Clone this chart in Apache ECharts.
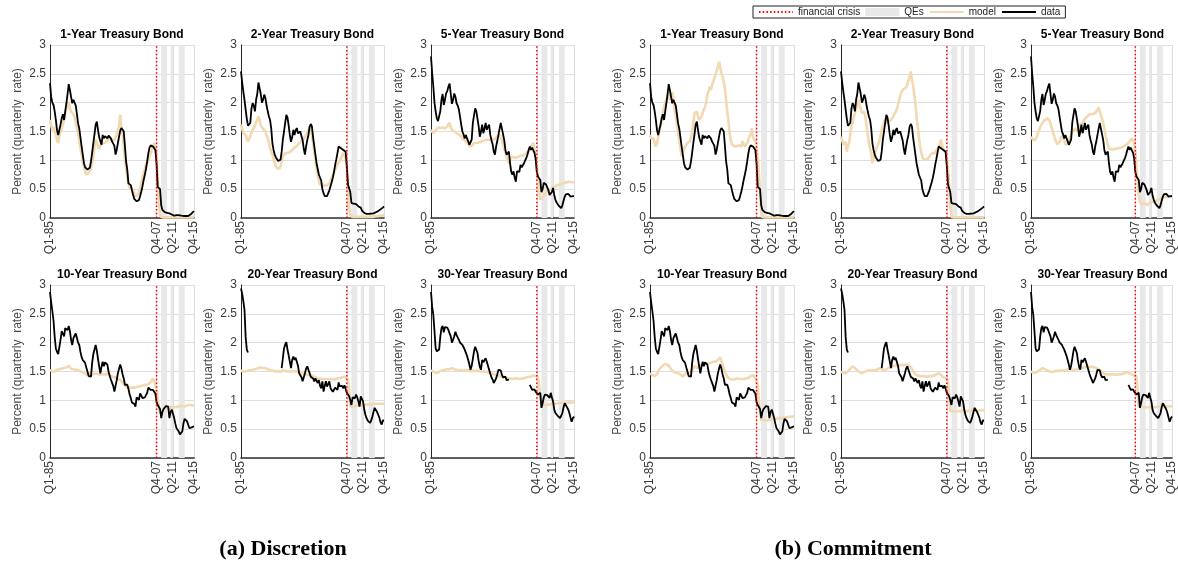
<!DOCTYPE html>
<html>
<head>
<meta charset="utf-8">
<script src="https://cdn.jsdelivr.net/npm/echarts@6/dist/echarts.min.js"></script>
<style>
  html, body { margin: 0; padding: 0; background: #fff; }
  #chart { width: 1178px; height: 564px; }
</style>
</head>
<body>
<div id="chart"></div>
<script>
// Quarterly sample, Q1-85 ... Q4-15
const quarters = [];
for (let y = 1985; y <= 2015; y++) {
  for (let q = 1; q <= 4; q++) quarters.push('Q' + q + '-' + String(y).slice(2));
}
const tickLabels = ['Q1-85', 'Q4-07', 'Q2-11', 'Q4-15'];
const crisisQuarter = 'Q4-07';
const qePeriods = [['Q4-08', 'Q1-10'], ['Q4-10', 'Q2-11'], ['Q3-12', 'Q4-13']];
const bondTitles = ['1-Year Treasury Bond', '2-Year Treasury Bond', '5-Year Treasury Bond',
                    '10-Year Treasury Bond', '20-Year Treasury Bond', '30-Year Treasury Bond'];
const captions = ['(a) Discretion', '(b) Commitment'];

// Observed yields (percent, quarterly rate)
const data1y = [
  2.34, 2.10, 2.00, 1.96, 1.85, 1.70, 1.52, 1.44, 1.47, 1.62,
  1.73, 1.80, 1.70, 1.85, 1.99, 2.15, 2.32, 2.22, 2.10, 1.99,
  2.05, 2.07, 1.95, 1.80, 1.64, 1.55, 1.40, 1.24, 1.10, 0.95,
  0.88, 0.86, 0.84, 0.85, 0.87, 0.98, 1.13, 1.30, 1.45, 1.62,
  1.67, 1.53, 1.40, 1.33, 1.27, 1.44, 1.38, 1.42, 1.44, 1.38,
  1.43, 1.44, 1.38, 1.33, 1.30, 1.25, 1.10, 1.18, 1.30, 1.41,
  1.52, 1.56, 1.55, 1.50, 1.25, 0.98, 0.84, 0.60, 0.58, 0.57,
  0.48, 0.40, 0.33, 0.30, 0.29, 0.30, 0.31, 0.38, 0.46, 0.55,
  0.66, 0.75, 0.85, 0.98, 1.12, 1.22, 1.26, 1.25, 1.24, 1.21,
  1.18, 0.95, 0.54, 0.52, 0.50, 0.22, 0.14, 0.11, 0.10, 0.10,
  0.09, 0.08, 0.08, 0.08, 0.06, 0.05, 0.04, 0.04, 0.05, 0.05,
  0.05, 0.04, 0.04, 0.035, 0.035, 0.035, 0.035, 0.035, 0.035, 0.04,
  0.06, 0.08, 0.10, 0.12
];
const data2y = [
  2.54, 2.35, 2.19, 2.05, 1.88, 1.72, 1.60, 1.58, 1.65, 1.90,
  1.99, 1.95, 1.85, 2.05, 2.15, 2.35, 2.25, 2.15, 2.00, 2.05,
  2.14, 2.08, 1.95, 1.85, 1.76, 1.70, 1.55, 1.30, 1.18, 1.10,
  1.05, 1.02, 0.99, 0.98, 1.01, 1.15, 1.36, 1.50, 1.65, 1.79,
  1.74, 1.60, 1.44, 1.32, 1.40, 1.53, 1.44, 1.52, 1.56, 1.47,
  1.44, 1.50, 1.42, 1.35, 1.20, 1.10, 1.24, 1.35, 1.44, 1.58,
  1.63, 1.59, 1.40, 1.25, 1.10, 0.95, 0.85, 0.75, 0.78, 0.65,
  0.50, 0.43, 0.38, 0.35, 0.38, 0.40, 0.48, 0.55, 0.62, 0.70,
  0.80, 0.92, 1.02, 1.13, 1.24, 1.22, 1.21, 1.20, 1.18, 1.17,
  1.15, 0.90, 0.58, 0.56, 0.45, 0.26, 0.26, 0.25, 0.26, 0.24,
  0.23, 0.20, 0.17, 0.18, 0.13, 0.12, 0.09, 0.07, 0.07, 0.07,
  0.07, 0.07, 0.075, 0.075, 0.08, 0.09, 0.10, 0.11, 0.12, 0.13,
  0.15, 0.17, 0.18, 0.20
];
const data5y = [
  2.80, 2.51, 2.28, 2.00, 1.85, 1.73, 1.68, 1.67, 1.85, 2.05,
  2.15, 1.96, 2.05, 2.16, 2.20, 2.28, 2.33, 2.15, 1.98, 2.05,
  2.16, 2.10, 1.99, 1.95, 1.88, 1.75, 1.62, 1.50, 1.45, 1.38,
  1.44, 1.38, 1.33, 1.27, 1.30, 1.36, 1.65, 1.78, 1.90, 1.85,
  1.72, 1.59, 1.41, 1.50, 1.62, 1.47, 1.55, 1.65, 1.53, 1.58,
  1.62, 1.44, 1.35, 1.28, 1.15, 1.10, 1.24, 1.33, 1.44, 1.55,
  1.65, 1.55, 1.45, 1.35, 1.18, 1.10, 1.12, 1.15, 0.95, 0.80,
  0.75, 0.81, 0.70, 0.63, 0.81, 0.78, 0.80, 0.92, 0.88, 0.90,
  0.95, 1.00, 1.04, 1.10, 1.18, 1.24, 1.18, 1.22, 1.20, 1.13,
  1.03, 0.80, 0.72, 0.70, 0.66, 0.45, 0.50, 0.61, 0.60, 0.58,
  0.56, 0.48, 0.40, 0.37, 0.45, 0.52, 0.40, 0.32, 0.27, 0.24,
  0.21, 0.18, 0.17, 0.22, 0.30, 0.37, 0.41, 0.42, 0.42, 0.40,
  0.37, 0.39, 0.38, 0.38
];
const data10y = [
  2.88, 2.70, 2.55, 2.38, 2.10, 1.90, 1.84, 1.80, 1.79, 2.05,
  2.20, 2.18, 2.11, 2.25, 2.28, 2.22, 2.29, 2.20, 2.05, 1.96,
  2.08, 2.12, 2.16, 2.08, 2.00, 1.96, 1.84, 1.75, 1.70, 1.73,
  1.65, 1.57, 1.50, 1.42, 1.41, 1.41, 1.65, 1.80, 1.88, 1.96,
  1.86, 1.72, 1.59, 1.47, 1.58, 1.67, 1.59, 1.66, 1.65, 1.62,
  1.50, 1.42, 1.36, 1.33, 1.25, 1.15, 1.25, 1.35, 1.47, 1.55,
  1.62, 1.55, 1.45, 1.38, 1.27, 1.24, 1.27, 1.20, 1.10, 1.04,
  0.96, 0.98, 0.94, 0.89, 1.05, 1.05, 1.01, 1.12, 1.08, 1.04,
  1.07, 1.05, 1.06, 1.13, 1.22, 1.25, 1.18, 1.21, 1.18, 1.15,
  1.12, 0.97, 0.92, 0.90, 0.85, 0.69, 0.80, 0.85, 0.87, 0.90,
  0.92, 0.89, 0.69, 0.80, 0.84, 0.84, 0.70, 0.60, 0.52, 0.50,
  0.46, 0.41, 0.42, 0.46, 0.60, 0.68, 0.67, 0.64, 0.58, 0.52,
  0.49, 0.53, 0.55, 0.55
];
// 20-year series not issued 1987-1993
const data20y = [
  2.94, 2.85, 2.72, 2.57, 2.10, 1.88, 1.83, null, null, null,
  null, null, null, null, null, null, null, null, null, null,
  null, null, null, null, null, null, null, null, null, null,
  null, null, null, null, null, 1.56, 1.73, 1.90, 1.97, 2.01,
  1.88, 1.78, 1.67, 1.56, 1.70, 1.76, 1.70, 1.74, 1.73, 1.60,
  1.47, 1.44, 1.40, 1.33, 1.40, 1.47, 1.55, 1.59, 1.53, 1.47,
  1.41, 1.44, 1.38, 1.33, 1.38, 1.34, 1.30, 1.35, 1.25, 1.21,
  1.33, 1.15, 1.25, 1.33, 1.24, 1.28, 1.33, 1.21, 1.18, 1.15,
  1.16, 1.22, 1.25, 1.18, 1.31, 1.24, 1.27, 1.25, 1.21, 1.26,
  1.24, 1.13, 1.15, 1.07, 1.00, 0.92, 1.05, 1.07, 1.04, 1.10,
  1.05, 0.98, 0.89, 1.07, 1.05, 0.98, 0.84, 0.75, 0.69, 0.65,
  0.63, 0.61, 0.65, 0.72, 0.80, 0.87, 0.84, 0.80, 0.75, 0.70,
  0.62, 0.58, 0.65, 0.65
];
// 30-year series suspended 2002-2005
const data30y = [
  2.88, 2.62, 2.48, 2.20, 1.90, 1.85, 1.86, 1.88, 2.10, 2.25,
  2.29, 2.18, 2.27, 2.28, 2.26, 2.22, 2.16, 2.11, 2.00, 2.05,
  2.11, 2.19, 2.13, 2.10, 2.05, 2.00, 1.98, 1.96, 1.92, 1.88,
  1.85, 1.77, 1.70, 1.62, 1.53, 1.60, 1.72, 1.85, 1.93, 1.96,
  1.82, 1.68, 1.58, 1.53, 1.70, 1.66, 1.64, 1.73, 1.67, 1.64,
  1.53, 1.46, 1.40, 1.36, 1.30, 1.27, 1.38, 1.45, 1.53, 1.56,
  1.52, 1.44, 1.40, 1.38, 1.41, 1.35, 1.33, 1.36, null, null,
  null, null, null, null, null, null, null, null, null, null,
  null, null, null, null, null, 1.27, 1.24, 1.18, 1.21, 1.19,
  1.15, 1.14, 1.10, 1.12, 1.13, 0.87, 0.95, 1.05, 1.10, 1.13,
  1.09, 1.07, 1.04, 1.13, 1.05, 0.98, 0.84, 0.78, 0.75, 0.73,
  0.72, 0.69, 0.72, 0.78, 0.88, 0.95, 0.92, 0.88, 0.84, 0.78,
  0.70, 0.63, 0.69, 0.72
];

// Model-implied yields under discretion
const discretion1y = [
  1.70, 1.60, 1.53, 1.58, 1.50, 1.45, 1.35, 1.30, 1.42, 1.50,
  1.55, 1.62, 1.70, 1.80, 1.90, 1.95, 2.02, 1.90, 1.85, 1.82,
  1.80, 1.75, 1.72, 1.55, 1.47, 1.35, 1.20, 1.10, 0.98, 0.88,
  0.80, 0.75, 0.72, 0.78, 0.81, 0.85, 0.95, 1.05, 1.25, 1.36,
  1.30, 1.24, 1.20, 1.25, 1.27, 1.30, 1.28, 1.30, 1.32, 1.35,
  1.36, 1.38, 1.37, 1.35, 1.33, 1.35, 1.40, 1.45, 1.52, 1.60,
  1.79, 1.55, 1.45, 1.25, 1.05, 0.85, 0.72, 0.60, 0.52, 0.50,
  0.52, 0.48, 0.42, 0.38, 0.37, 0.40, 0.45, 0.52, 0.62, 0.70,
  0.78, 0.85, 0.92, 0.97, 1.01, 1.08, 1.12, 1.18, 1.25, 1.30,
  1.25, 1.05, 0.66, 0.25, 0.06, 0.02, 0.01, 0.01, 0.01, 0.01,
  0.01, 0.01, 0.01, 0.01, 0.01, 0.01, 0.01, 0.01, 0.01, 0.01,
  0.01, 0.01, 0.01, 0.01, 0.01, 0.01, 0.01, 0.01, 0.01, 0.01,
  0.01, 0.01, 0.01, 0.01
];
const discretion2y = [
  1.62, 1.55, 1.47, 1.45, 1.44, 1.38, 1.33, 1.36, 1.42, 1.48,
  1.53, 1.55, 1.60, 1.65, 1.70, 1.76, 1.70, 1.60, 1.58, 1.55,
  1.52, 1.50, 1.47, 1.38, 1.30, 1.22, 1.15, 1.10, 1.02, 0.95,
  0.90, 0.86, 0.84, 0.86, 0.90, 0.98, 1.07, 1.10, 1.12, 1.10,
  1.13, 1.15, 1.14, 1.16, 1.18, 1.20, 1.22, 1.24, 1.25, 1.27,
  1.30, 1.31, 1.33, 1.35, 1.38, 1.40, 1.44, 1.48, 1.52, 1.59,
  1.52, 1.45, 1.30, 1.15, 1.00, 0.85, 0.75, 0.65, 0.58, 0.55,
  0.57, 0.58, 0.56, 0.55, 0.57, 0.58, 0.60, 0.65, 0.70, 0.74,
  0.79, 0.84, 0.88, 0.92, 0.95, 1.00, 1.04, 1.08, 1.13, 1.10,
  1.05, 0.90, 0.50, 0.20, 0.05, 0.02, 0.02, 0.02, 0.02, 0.02,
  0.02, 0.02, 0.02, 0.02, 0.02, 0.02, 0.02, 0.02, 0.02, 0.02,
  0.02, 0.02, 0.02, 0.02, 0.02, 0.02, 0.03, 0.03, 0.03, 0.04,
  0.04, 0.05, 0.05, 0.05
];
const discretion5y = [
  1.53, 1.50, 1.47, 1.47, 1.52, 1.55, 1.57, 1.59, 1.56, 1.55,
  1.57, 1.56, 1.55, 1.58, 1.59, 1.62, 1.65, 1.58, 1.53, 1.52,
  1.50, 1.48, 1.47, 1.46, 1.45, 1.43, 1.41, 1.38, 1.36, 1.35,
  1.33, 1.30, 1.28, 1.24, 1.21, 1.25, 1.28, 1.30, 1.31, 1.30,
  1.32, 1.31, 1.33, 1.32, 1.33, 1.34, 1.33, 1.35, 1.34, 1.36,
  1.35, 1.35, 1.34, 1.36, 1.35, 1.37, 1.38, 1.41, 1.42, 1.44,
  1.40, 1.35, 1.28, 1.20, 1.12, 1.07, 1.00, 0.95, 1.00, 1.05,
  1.07, 1.06, 1.05, 1.04, 1.05, 1.06, 1.07, 1.08, 1.07, 1.08,
  1.10, 1.11, 1.13, 1.14, 1.17, 1.20, 1.24, 1.27, 1.30, 1.20,
  1.10, 0.90, 0.65, 0.45, 0.32, 0.29, 0.35, 0.40, 0.43, 0.45,
  0.47, 0.48, 0.49, 0.50, 0.52, 0.53, 0.55, 0.55, 0.56, 0.57,
  0.58, 0.58, 0.59, 0.60, 0.60, 0.61, 0.61, 0.62, 0.62, 0.63,
  0.63, 0.62, 0.61, 0.62
];
const discretion10y = [
  1.53, 1.52, 1.50, 1.49, 1.50, 1.52, 1.53, 1.55, 1.54, 1.56,
  1.55, 1.57, 1.56, 1.58, 1.57, 1.59, 1.60, 1.57, 1.55, 1.56,
  1.54, 1.55, 1.53, 1.52, 1.53, 1.51, 1.50, 1.50, 1.49, 1.48,
  1.46, 1.47, 1.44, 1.45, 1.47, 1.46, 1.45, 1.47, 1.46, 1.45,
  1.46, 1.44, 1.45, 1.46, 1.45, 1.44, 1.45, 1.46, 1.45, 1.44,
  1.46, 1.45, 1.43, 1.42, 1.40, 1.38, 1.40, 1.38, 1.36, 1.38,
  1.36, 1.33, 1.30, 1.28, 1.26, 1.24, 1.22, 1.21, 1.22, 1.20,
  1.22, 1.23, 1.22, 1.24, 1.23, 1.25, 1.24, 1.23, 1.25, 1.24,
  1.26, 1.25, 1.27, 1.26, 1.28, 1.30, 1.32, 1.35, 1.38, 1.32,
  1.28, 1.25, 1.05, 0.85, 0.78, 0.76, 0.80, 0.83, 0.85, 0.85,
  0.86, 0.87, 0.86, 0.87, 0.88, 0.87, 0.88, 0.89, 0.88, 0.89,
  0.90, 0.89, 0.90, 0.89, 0.90, 0.91, 0.90, 0.91, 0.92, 0.91,
  0.92, 0.93, 0.91, 0.92
];
const discretion20y = [
  1.52, 1.51, 1.50, 1.49, 1.50, 1.51, 1.52, 1.53, 1.52, 1.54,
  1.53, 1.55, 1.54, 1.56, 1.55, 1.56, 1.57, 1.55, 1.56, 1.55,
  1.56, 1.54, 1.55, 1.54, 1.53, 1.54, 1.52, 1.53, 1.51, 1.52,
  1.50, 1.49, 1.51, 1.50, 1.49, 1.51, 1.52, 1.50, 1.51, 1.52,
  1.50, 1.51, 1.50, 1.49, 1.51, 1.50, 1.50, 1.49, 1.50, 1.49,
  1.48, 1.49, 1.47, 1.47, 1.46, 1.46, 1.45, 1.45, 1.44, 1.44,
  1.43, 1.42, 1.42, 1.41, 1.40, 1.39, 1.38, 1.38, 1.37, 1.38,
  1.37, 1.36, 1.37, 1.36, 1.37, 1.36, 1.37, 1.36, 1.37, 1.37,
  1.36, 1.37, 1.38, 1.37, 1.38, 1.38, 1.39, 1.40, 1.41, 1.42,
  1.40, 1.38, 1.36, 1.20, 0.90, 0.87, 0.88, 0.89, 0.90, 0.90,
  0.91, 0.90, 0.91, 0.92, 0.91, 0.92, 0.91, 0.92, 0.93, 0.92,
  0.93, 0.92, 0.93, 0.93, 0.94, 0.93, 0.94, 0.93, 0.94, 0.95,
  0.94, 0.95, 0.94, 0.95
];
const discretion30y = [
  1.52, 1.51, 1.50, 1.49, 1.48, 1.49, 1.48, 1.50, 1.51, 1.50,
  1.52, 1.51, 1.53, 1.52, 1.54, 1.55, 1.54, 1.55, 1.56, 1.55,
  1.54, 1.55, 1.53, 1.54, 1.52, 1.53, 1.52, 1.53, 1.51, 1.52,
  1.52, 1.51, 1.52, 1.50, 1.51, 1.52, 1.51, 1.50, 1.51, 1.50,
  1.51, 1.50, 1.51, 1.50, 1.50, 1.49, 1.50, 1.49, 1.49, 1.48,
  1.48, 1.47, 1.47, 1.46, 1.45, 1.45, 1.44, 1.43, 1.43, 1.42,
  1.41, 1.40, 1.40, 1.39, 1.40, 1.39, 1.38, 1.39, 1.38, 1.38,
  1.37, 1.38, 1.38, 1.37, 1.38, 1.38, 1.37, 1.38, 1.38, 1.39,
  1.38, 1.39, 1.40, 1.40, 1.41, 1.40, 1.41, 1.42, 1.43, 1.44,
  1.42, 1.41, 1.40, 1.40, 1.10, 0.92, 0.91, 0.92, 0.93, 0.92,
  0.93, 0.93, 0.94, 0.93, 0.94, 0.94, 0.95, 0.94, 0.95, 0.95,
  0.95, 0.96, 0.95, 0.96, 0.96, 0.95, 0.96, 0.96, 0.97, 0.96,
  0.97, 0.96, 0.97, 0.97
];

// Model-implied yields under commitment
const commitment1y = [
  1.44, 1.38, 1.36, 1.38, 1.30, 1.24, 1.30, 1.40, 1.55, 1.60,
  1.72, 1.82, 1.92, 2.00, 2.02, 2.10, 2.19, 2.05, 2.10, 2.18,
  2.05, 1.90, 1.76, 1.62, 1.47, 1.35, 1.20, 1.07, 1.12, 1.18,
  1.24, 1.27, 1.30, 1.32, 1.33, 1.38, 1.50, 1.65, 1.82, 1.85,
  1.84, 1.76, 1.70, 1.73, 1.76, 1.82, 1.88, 1.92, 2.00, 2.14,
  2.20, 2.28, 2.22, 2.30, 2.37, 2.42, 2.45, 2.55, 2.63, 2.71,
  2.62, 2.51, 2.45, 2.35, 2.25, 2.05, 1.85, 1.68, 1.47, 1.35,
  1.28, 1.26, 1.24, 1.22, 1.25, 1.23, 1.26, 1.25, 1.24, 1.33,
  1.28, 1.24, 1.27, 1.30, 1.36, 1.41, 1.45, 1.56, 1.40, 1.38,
  1.32, 1.24, 1.05, 0.80, 0.43, 0.09, 0.02, 0.01, 0.01, 0.01,
  0.01, 0.01, 0.01, 0.01, 0.01, 0.01, 0.01, 0.01, 0.01, 0.01,
  0.01, 0.01, 0.01, 0.01, 0.01, 0.01, 0.01, 0.01, 0.01, 0.01,
  0.01, 0.01, 0.01, 0.01
];
const commitment2y = [
  1.41, 1.35, 1.27, 1.30, 1.32, 1.15, 1.25, 1.30, 1.45, 1.59,
  1.65, 1.76, 1.82, 1.90, 1.98, 2.05, 1.95, 1.90, 1.82, 1.80,
  1.84, 1.75, 1.59, 1.45, 1.30, 1.20, 1.13, 0.95, 1.02, 1.10,
  1.18, 1.24, 1.28, 1.33, 1.42, 1.53, 1.60, 1.64, 1.73, 1.70,
  1.64, 1.68, 1.66, 1.70, 1.73, 1.76, 1.79, 1.84, 1.88, 1.96,
  2.05, 2.12, 2.19, 2.22, 2.24, 2.22, 2.26, 2.28, 2.38, 2.45,
  2.54, 2.40, 2.31, 2.15, 1.99, 1.75, 1.59, 1.40, 1.25, 1.15,
  1.05, 1.01, 1.00, 1.02, 1.01, 1.03, 1.06, 1.10, 1.12, 1.13,
  1.10, 1.12, 1.18, 1.21, 1.20, 1.21, 1.36, 1.25, 1.20, 1.23,
  1.13, 1.00, 0.85, 0.60, 0.20, 0.02, 0.01, 0.01, 0.01, 0.01,
  0.01, 0.01, 0.01, 0.01, 0.01, 0.01, 0.01, 0.01, 0.01, 0.01,
  0.01, 0.01, 0.01, 0.01, 0.01, 0.01, 0.01, 0.01, 0.01, 0.01,
  0.01, 0.01, 0.01, 0.01
];
const commitment5y = [
  1.41, 1.38, 1.35, 1.33, 1.36, 1.40, 1.47, 1.52, 1.57, 1.62,
  1.65, 1.68, 1.70, 1.71, 1.72, 1.73, 1.70, 1.65, 1.57, 1.50,
  1.44, 1.36, 1.32, 1.28, 1.27, 1.32, 1.38, 1.42, 1.44, 1.35,
  1.27, 1.29, 1.30, 1.36, 1.40, 1.44, 1.50, 1.53, 1.55, 1.56,
  1.52, 1.50, 1.55, 1.62, 1.63, 1.65, 1.68, 1.72, 1.73, 1.76,
  1.79, 1.80, 1.78, 1.80, 1.79, 1.81, 1.82, 1.84, 1.88, 1.92,
  1.85, 1.78, 1.72, 1.65, 1.55, 1.44, 1.35, 1.28, 1.21, 1.20,
  1.19, 1.18, 1.19, 1.18, 1.20, 1.19, 1.21, 1.20, 1.22, 1.24,
  1.23, 1.24, 1.26, 1.27, 1.28, 1.30, 1.33, 1.36, 1.38, 1.34,
  1.30, 1.15, 0.89, 0.60, 0.40, 0.29, 0.24, 0.23, 0.25, 0.26,
  0.25, 0.24, 0.23, 0.25, 0.27, 0.29, 0.28, 0.27, 0.28, 0.30,
  0.31, 0.32, 0.33, 0.34, 0.35, 0.35, 0.36, 0.36, 0.37, 0.37,
  0.38, 0.38, 0.38, 0.38
];
const commitment10y = [
  1.47, 1.45, 1.44, 1.43, 1.42, 1.41, 1.45, 1.50, 1.54, 1.56,
  1.58, 1.60, 1.62, 1.64, 1.63, 1.62, 1.60, 1.57, 1.54, 1.52,
  1.50, 1.49, 1.48, 1.47, 1.47, 1.46, 1.45, 1.42, 1.41, 1.43,
  1.46, 1.47, 1.47, 1.48, 1.49, 1.50, 1.53, 1.56, 1.59, 1.57,
  1.56, 1.58, 1.60, 1.61, 1.62, 1.63, 1.62, 1.63, 1.64, 1.63,
  1.64, 1.64, 1.65, 1.66, 1.67, 1.66, 1.67, 1.68, 1.70, 1.72,
  1.75, 1.68, 1.62, 1.56, 1.50, 1.45, 1.41, 1.39, 1.37, 1.36,
  1.36, 1.35, 1.36, 1.37, 1.38, 1.37, 1.37, 1.36, 1.37, 1.36,
  1.37, 1.37, 1.38, 1.38, 1.39, 1.41, 1.42, 1.43, 1.44, 1.41,
  1.38, 1.33, 1.27, 1.00, 0.80, 0.66, 0.65, 0.66, 0.66, 0.65,
  0.66, 0.66, 0.67, 0.66, 0.67, 0.67, 0.68, 0.68, 0.69, 0.68,
  0.69, 0.69, 0.70, 0.69, 0.70, 0.70, 0.71, 0.71, 0.72, 0.71,
  0.72, 0.72, 0.72, 0.72
];
const commitment20y = [
  1.50, 1.48, 1.47, 1.46, 1.47, 1.49, 1.50, 1.53, 1.55, 1.57,
  1.59, 1.58, 1.56, 1.53, 1.52, 1.50, 1.49, 1.48, 1.47, 1.48,
  1.49, 1.50, 1.51, 1.50, 1.52, 1.53, 1.52, 1.51, 1.52, 1.53,
  1.52, 1.53, 1.55, 1.56, 1.55, 1.54, 1.53, 1.54, 1.53, 1.55,
  1.55, 1.56, 1.57, 1.58, 1.59, 1.59, 1.60, 1.60, 1.61, 1.62,
  1.61, 1.62, 1.61, 1.62, 1.61, 1.62, 1.62, 1.61, 1.60, 1.59,
  1.58, 1.54, 1.50, 1.47, 1.45, 1.44, 1.43, 1.43, 1.42, 1.41,
  1.42, 1.41, 1.42, 1.42, 1.41, 1.42, 1.42, 1.43, 1.42, 1.43,
  1.43, 1.44, 1.45, 1.46, 1.47, 1.46, 1.44, 1.42, 1.40, 1.39,
  1.38, 1.37, 1.36, 1.10, 0.82, 0.81, 0.81, 0.80, 0.81, 0.81,
  0.81, 0.80, 0.81, 0.81, 0.82, 0.81, 0.81, 0.82, 0.81, 0.82,
  0.82, 0.81, 0.82, 0.82, 0.83, 0.82, 0.82, 0.83, 0.82, 0.83,
  0.83, 0.83, 0.83, 0.83
];
const commitment30y = [
  1.50, 1.49, 1.48, 1.47, 1.48, 1.49, 1.50, 1.52, 1.53, 1.55,
  1.56, 1.55, 1.54, 1.53, 1.52, 1.51, 1.50, 1.49, 1.49, 1.50,
  1.50, 1.51, 1.51, 1.50, 1.51, 1.52, 1.51, 1.52, 1.52, 1.53,
  1.52, 1.53, 1.54, 1.55, 1.54, 1.53, 1.53, 1.54, 1.53, 1.54,
  1.54, 1.55, 1.55, 1.56, 1.56, 1.57, 1.57, 1.58, 1.58, 1.59,
  1.58, 1.59, 1.58, 1.59, 1.58, 1.58, 1.57, 1.56, 1.55, 1.54,
  1.53, 1.51, 1.49, 1.47, 1.46, 1.45, 1.45, 1.44, 1.45, 1.44,
  1.45, 1.44, 1.45, 1.45, 1.44, 1.45, 1.45, 1.46, 1.45, 1.46,
  1.46, 1.47, 1.47, 1.48, 1.49, 1.48, 1.47, 1.46, 1.45, 1.44,
  1.43, 1.42, 1.42, 1.20, 0.90, 0.88, 0.88, 0.87, 0.88, 0.88,
  0.88, 0.87, 0.88, 0.88, 0.89, 0.88, 0.88, 0.89, 0.88, 0.89,
  0.89, 0.88, 0.89, 0.89, 0.90, 0.89, 0.89, 0.90, 0.89, 0.90,
  0.90, 0.90, 0.90, 0.90
];

const observed = [data1y, data2y, data5y, data10y, data20y, data30y];
const modelSets = [
  [discretion1y, discretion2y, discretion5y, discretion10y, discretion20y, discretion30y],
  [commitment1y, commitment2y, commitment5y, commitment10y, commitment20y, commitment30y]
];

// ---- layout ----
const FONT = '"Liberation Sans", Arial, Helvetica, sans-serif';
const colLeft = [50, 241, 431, 650, 841, 1031];
const colWidth = [144, 143, 143, 144, 143, 143];
const rowTop = [45, 285];
const plotHeight = 173;
const MODEL_COLOR = '#F2D9B1';
const QE_COLOR = '#e8e8e8';
const GRID_COLOR = '#dedede';
const TEXT_COLOR = '#3a3a3a';

const idx = q => quarters.indexOf(q);
const tickIdx = tickLabels.map(idx);
const crisisIdx = idx(crisisQuarter);
const qeAreas = qePeriods.map(([a, b]) => [{ xAxis: idx(a) }, { xAxis: idx(b) }]);
const toPoints = arr => arr.map((v, k) => [k, v == null ? null : v]);

const grids = [], xAxes = [], yAxes = [], series = [], graphics = [];
let g = 0;
for (let block = 0; block < 2; block++) {
  for (let m = 0; m < 6; m++) {
    const row = Math.floor(m / 3);
    const col = block * 3 + (m % 3);
    const left = colLeft[col], width = colWidth[col], top = rowTop[row];
    grids.push({ left: left, top: top, width: width, height: plotHeight, containLabel: false });
    xAxes.push({
      gridIndex: g, type: 'value', min: 0, max: quarters.length - 1,
      axisLine: { show: true, onZero: false, lineStyle: { color: '#303030', width: 1.6 } },
      axisTick: { show: false, customValues: tickIdx },
      axisLabel: { customValues: tickIdx, formatter: v => quarters[v], rotate: 90, margin: 3,
                   fontSize: 12, color: TEXT_COLOR, fontFamily: FONT, hideOverlap: false },
      splitLine: { show: true, lineStyle: { color: GRID_COLOR, width: 1 } }
    });
    yAxes.push({
      gridIndex: g, type: 'value', min: 0, max: 3, interval: 0.5,
      name: 'Percent (quarterly  rate)', nameLocation: 'middle', nameGap: 26,
      nameTextStyle: { fontSize: 12, color: '#4a4a4a', fontFamily: FONT },
      axisLine: { show: true, onZero: false, lineStyle: { color: '#262626', width: 1 } },
      axisTick: { show: false },
      axisLabel: { fontSize: 12, color: TEXT_COLOR, fontFamily: FONT, margin: 4 },
      splitLine: { show: true, lineStyle: { color: GRID_COLOR, width: 1 } }
    });
    series.push({
      type: 'line', name: 'QEs', xAxisIndex: g, yAxisIndex: g, data: [],
      itemStyle: { color: QE_COLOR }, lineStyle: { color: QE_COLOR },
      markArea: { silent: true, itemStyle: { color: QE_COLOR }, data: qeAreas }, z: 1
    });
    series.push({
      type: 'line', name: 'model', xAxisIndex: g, yAxisIndex: g,
      data: toPoints(modelSets[block][m]), symbol: 'none',
      lineStyle: { color: MODEL_COLOR, width: 2.6 }, itemStyle: { color: MODEL_COLOR }, z: 3
    });
    series.push({
      type: 'line', name: 'data', xAxisIndex: g, yAxisIndex: g,
      data: toPoints(observed[m]), symbol: 'none', connectNulls: false,
      lineStyle: { color: '#000', width: 1.8 }, itemStyle: { color: '#000' }, z: 4
    });
    series.push({
      type: 'line', name: 'financial crisis', xAxisIndex: g, yAxisIndex: g,
      data: [[crisisIdx, 0], [crisisIdx, 3]], symbol: 'none',
      lineStyle: { color: '#ff0000', width: 1.5, type: [1.5, 2.2] }, itemStyle: { color: '#ff0000' }, z: 5
    });
    graphics.push({
      type: 'text', x: left + width / 2, y: top - 10,
      style: { text: bondTitles[m], fill: '#000', font: 'bold 12px ' + FONT, align: 'center', verticalAlign: 'middle' }
    });
    g++;
  }
}
captions.forEach((c, i) => {
  graphics.push({
    type: 'text', x: i === 0 ? 283 : 853, y: 549,
    style: { text: c, fill: '#000', font: 'bold 22px "Liberation Serif", "Times New Roman", serif',
             align: 'center', verticalAlign: 'middle' }
  });
});

// line-only legend keys: hide the point marker drawn in the middle of each key
const noMarker = { opacity: 0 };

const chart = echarts.init(document.getElementById('chart'), null, { renderer: 'canvas' });
chart.setOption({
  animation: false,
  backgroundColor: '#fff',
  grid: grids, xAxis: xAxes, yAxis: yAxes, series: series,
  legend: {
    left: 753, top: 6, itemWidth: 34, itemHeight: 8, itemGap: 5, padding: [1, 5],
    borderColor: '#222', borderWidth: 1, backgroundColor: '#fff', selectedMode: false,
    textStyle: { fontSize: 10, color: '#222', fontFamily: FONT, lineHeight: 10 },
    data: [
      { name: 'financial crisis', itemStyle: noMarker },
      { name: 'QEs', icon: 'rect', itemStyle: { color: QE_COLOR } },
      { name: 'model', itemStyle: noMarker },
      { name: 'data', itemStyle: noMarker }
    ]
  },
  graphic: graphics
});
</script>
</body>
</html>
